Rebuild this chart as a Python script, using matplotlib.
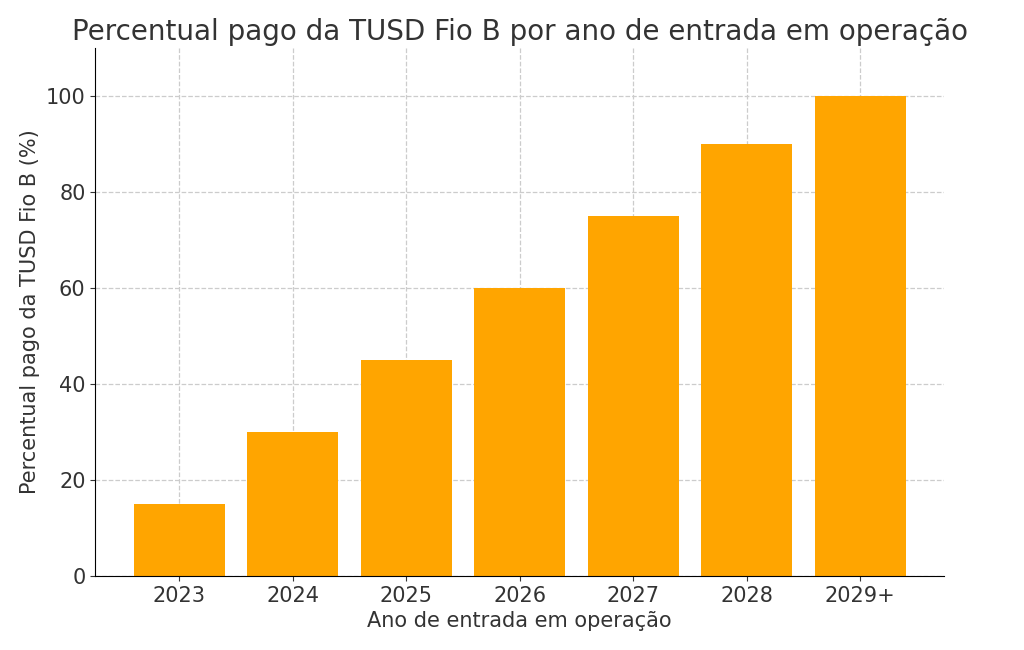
import matplotlib.pyplot as plt

# data
anos = ["2023", "2024", "2025", "2026", "2027", "2028", "2029+"]
percentual = [15, 30, 45, 60, 75, 90, 100]

fig, ax = plt.subplots(figsize=(10.24, 6.5), dpi=100)
fig.subplots_adjust(left=0.093, right=0.922, top=0.926, bottom=0.114)

ax.bar(anos, percentual, color="#FFA500", width=0.8, zorder=2)
ax.set_ylim(0, 110)
ax.grid(True, linestyle="--", color="#cccccc", linewidth=0.9, zorder=0)

ax.set_title("Percentual pago da TUSD Fio B por ano de entrada em operação",
             fontsize=20, color="#333333")
ax.set_xlabel("Ano de entrada em operação", fontsize=15, color="#333333")
ax.set_ylabel("Percentual pago da TUSD Fio B (%)", fontsize=15, color="#333333")
ax.tick_params(labelsize=15, colors="#333333")
ax.spines["top"].set_visible(False)
ax.spines["right"].set_visible(False)

plt.savefig("out.png")
